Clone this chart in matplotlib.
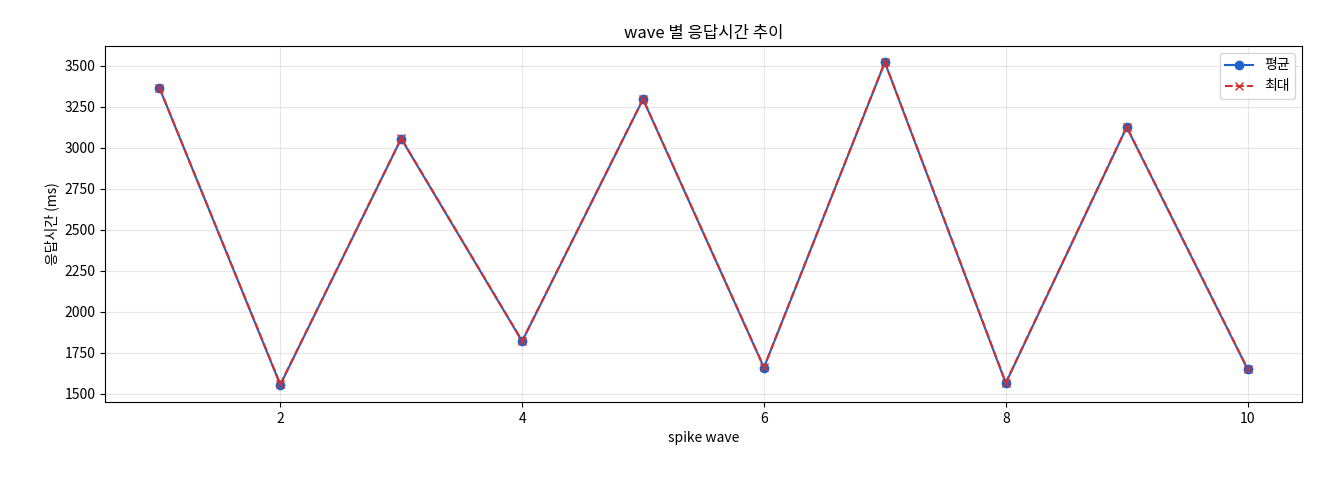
import matplotlib
matplotlib.use("Agg")
import matplotlib.pyplot as plt

plt.rcParams['font.family'] = ['Noto Sans CJK KR', 'DejaVu Sans']

waves = [1, 2, 3, 4, 5, 6, 7, 8, 9, 10]
avg_ms = [3365, 1555, 3055, 1820, 3295, 1660, 3520, 1565, 3125, 1650]
max_ms = [3365, 1558, 3057, 1822, 3297, 1662, 3522, 1568, 3127, 1652]

fig = plt.figure(figsize=(13.2, 4.8), dpi=100)
ax = fig.add_axes([105/1320, 1-402/480, (1302-105)/1320, (402-46)/480])
ax.plot(waves, avg_ms, marker='o', color='#1f63c6', label='평균', markersize=6, linewidth=1.5)
ax.plot(waves, max_ms, marker='x', linestyle='--', color='#d62d2d', label='최대', markersize=6, linewidth=1.5)
ax.set_title('wave 별 응답시간 추이', fontsize=12)
ax.set_xlabel('spike wave', fontsize=10)
ax.set_ylabel('응답시간 (ms)', fontsize=10)
ax.set_yticks([1500, 1750, 2000, 2250, 2500, 2750, 3000, 3250, 3500])
ax.set_ylim(1450, 3620)
ax.set_xlim(0.55, 10.45)
ax.grid(True, alpha=0.3)
ax.legend(loc='upper right')
fig.savefig('out.png', dpi=100)
